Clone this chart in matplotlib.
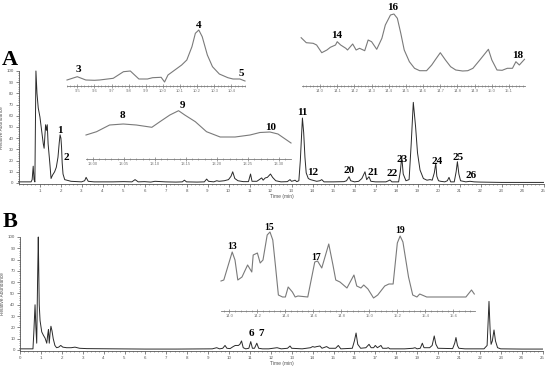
import matplotlib
matplotlib.use("Agg")
import matplotlib.pyplot as plt
from matplotlib.ticker import MultipleLocator, FixedLocator

W, H = 550, 370

# ---------------- data: main chromatogram A ----------------
tA = [0.0, 0.6, 0.65, 0.70, 0.74, 0.78, 0.83, 0.88, 0.94, 1.02, 1.10, 1.18, 1.22, 1.29, 1.33, 1.37,
      1.41, 1.45, 1.49, 1.55, 1.62, 1.72, 1.80, 1.88, 1.94, 1.98, 2.02, 2.05, 2.08, 2.12, 2.2, 2.5,
      3.0, 3.15, 3.22, 3.32, 3.6, 4.5, 5.0, 5.4, 5.55, 5.7, 6.0, 6.3, 6.5, 7.0, 7.5, 7.8, 7.9, 8.0,
      8.5, 8.85, 8.96, 9.05, 9.3, 9.44, 9.55, 9.8, 10.0, 10.12, 10.2, 10.3, 10.45, 10.7, 10.95,
      11.05, 11.12, 11.35, 11.5, 11.58, 11.65, 11.75, 11.85, 12.0, 12.1, 12.25, 12.5, 12.8, 12.93,
      13.0, 13.1, 13.17, 13.25, 13.35, 13.42, 13.52, 13.58, 13.64, 13.7, 13.8, 13.9, 14.2, 14.35,
      14.44, 14.55, 15.0, 15.5, 15.62, 15.74, 15.82, 16.0, 16.2, 16.35, 16.5, 16.58, 16.69, 16.78,
      17.0, 17.5, 17.62, 17.69, 17.78, 18.1, 18.18, 18.25, 18.32, 18.45, 18.6, 18.7, 18.8, 18.86,
      18.91, 19.0, 19.12, 19.28, 19.45, 19.6, 19.7, 19.8, 19.87, 19.92, 20.0, 20.1, 20.3, 20.42,
      20.5, 20.58, 20.75, 20.84, 20.9, 20.97, 21.05, 21.3, 21.5, 21.7, 22.0, 23.0, 24.0, 25.0]
vA = [1, 1, 3, 15, 3, 1, 100, 80, 67, 59, 47, 35, 31, 52, 47, 52,
      35, 27, 18, 4, 7, 10, 14, 23, 36, 43, 40, 32, 18, 8, 3, 1.5,
      1, 2, 5, 1.5, 1, 1, 1.2, 1, 3, 1, 1.2, 0.8, 1.5, 1, 0.8, 1, 2.5, 1,
      0.8, 1, 3.5, 1.5, 1, 2, 1.5, 2, 3, 6, 10, 4, 2, 1.2, 1.2,
      8, 1.5, 1.5, 3.5, 4.5, 2.5, 4.5, 5, 8, 5, 2, 1, 1.2, 3,
      1.5, 2, 2.5, 1.2, 2, 20, 58, 45, 23, 9, 4, 3, 1.5, 2,
      3, 1, 1, 1.2, 2, 5.6, 2, 1, 1.5, 4, 10, 3, 5.6, 1.5,
      1, 1, 2, 2.7, 1, 1, 10, 23.5, 8, 2, 3, 35, 72, 60,
      50, 27, 11.6, 4, 2.5, 3, 2.5, 9, 17.6, 6, 2, 1.5, 1, 2,
      5, 1, 1, 10, 19, 8, 2, 1, 1.5, 1, 0.8, 0.5, 0.5, 0.5]

# ---------------- data: main chromatogram B ----------------
tB = [0.0, 0.62, 0.66, 0.72, 0.76, 0.8, 0.84, 0.875, 0.89, 0.92, 0.96, 1.04, 1.12, 1.2, 1.28, 1.33,
      1.36, 1.4, 1.44, 1.48, 1.53, 1.59, 1.67, 1.75, 1.85, 1.95, 2.05, 2.23, 2.45, 2.63, 2.85, 3.2,
      4.5, 6.0, 7.5, 9.2, 9.41, 9.55, 9.7, 9.81, 9.9, 10.05, 10.2, 10.3, 10.45, 10.52, 10.6, 10.68,
      10.8, 10.95, 11.04, 11.12, 11.22, 11.33, 11.42, 11.6, 11.9, 12.3, 12.5, 12.8, 12.92, 13.0,
      13.5, 13.9, 14.0, 14.1, 14.2, 14.35, 14.45, 14.67, 14.8, 15.1, 15.23, 15.35, 15.9, 16.0,
      16.08, 16.16, 16.3, 16.55, 16.7, 16.8, 16.92, 17.0, 17.1, 17.27, 17.35, 17.55, 17.62, 17.7,
      18.4, 18.8, 18.9, 19.0, 19.15, 19.25, 19.33, 19.6, 19.72, 19.82, 19.9, 20.0, 20.7, 20.8,
      20.86, 20.93, 21.0, 21.29, 21.6, 22.2, 22.35, 22.44, 22.5, 22.54, 22.6, 22.68, 22.75, 22.85,
      23.0, 24.0, 25.0]
vB = [1, 1, 15, 40, 20, 6, 60, 100, 80, 40, 26, 16, 13, 10.5, 6, 14,
      18, 6, 15, 21, 17, 10, 4, 2, 2.5, 4, 2.5, 2, 2, 2.5, 1.5, 1.2,
      1, 0.8, 0.8, 1, 2, 1, 1.5, 4, 1.5, 1.2, 3, 4, 4, 5, 8, 2,
      1, 1.5, 7.4, 1.5, 1.5, 6, 1.5, 1, 1, 2, 1, 1.5, 3.5, 1.5,
      1, 2, 3, 2.5, 3, 3.5, 1.5, 3, 1.5, 1.5, 4, 1, 1.5, 8,
      15, 5, 1.5, 2, 5, 2, 2, 4, 2, 4, 1.5, 1.5, 2, 1,
      1, 1.5, 2, 1, 1.5, 6, 2, 2, 4, 12.4, 5, 1.5, 1.2, 6,
      11, 4, 1.5, 1, 1, 1, 4, 43, 15, 5, 8, 17.7, 8, 2,
      1, 0.8, 0.8]

# ---------------- data: insets (relative heights above inset axis) ----------------
t_in1 = [9.44, 9.50, 9.55, 9.60, 9.63, 9.71, 9.77, 9.81, 9.86, 9.91, 9.94, 9.99, 10.01, 10.03,
         10.07, 10.11, 10.14, 10.17, 10.19, 10.21, 10.23, 10.26, 10.29, 10.33, 10.38, 10.41,
         10.45, 10.48]
v_in1 = [6, 9.3, 6, 5.7, 6, 7.7, 14.3, 15, 7, 7, 8.3, 8.7, 4, 11,
         16, 21, 26, 39.3, 52.7, 56, 49.3, 31, 19.3, 12, 8.3, 7, 7, 5]

t_in2 = [12.989, 13.006, 13.027, 13.049, 13.070, 13.095, 13.108, 13.124, 13.138, 13.148,
         13.165, 13.183, 13.205, 13.229, 13.253, 13.269, 13.285, 13.298, 13.319]
v_in2 = [24, 27.3, 34, 35, 34, 31.7, 37.3, 44, 48.3, 44,
         37.3, 27.3, 22, 22, 24, 26.5, 27, 25, 16]

t_in3 = [13.89, 13.92, 13.96, 13.98, 14.01, 14.04, 14.06, 14.09, 14.10, 14.12, 14.15, 14.16,
         14.19, 14.21, 14.23, 14.26, 14.28, 14.30, 14.33, 14.36, 14.38, 14.41, 14.43, 14.45,
         14.47, 14.49, 14.52, 14.55, 14.58, 14.62, 14.65, 14.67, 14.70, 14.73, 14.76, 14.79,
         14.83, 14.86, 14.89, 14.93, 14.98, 15.00, 15.03, 15.06, 15.09, 15.12, 15.14, 15.16,
         15.19]
v_in3 = [48.3, 43.3, 42.7, 41, 33.3, 36, 38.7, 41, 44.3, 41, 37.7, 36,
         42, 36, 37.7, 35.3, 46, 44.3, 36.7, 47.7, 61, 71, 72, 67.7,
         52.7, 36, 24.3, 17.7, 15.3, 15.3, 21, 26, 33.3, 26, 19.3, 16,
         15, 15.3, 17.7, 26, 36.7, 26, 16, 15.7, 17.7, 17.7, 24.3, 21,
         26.7]

t_inB = [13.94, 13.96, 14.02, 14.04, 14.06, 14.09, 14.13, 14.16, 14.17, 14.20, 14.22, 14.24,
         14.27, 14.29, 14.31, 14.33, 14.35, 14.38, 14.40, 14.42, 14.45, 14.47, 14.49, 14.56,
         14.61, 14.63, 14.66, 14.71, 14.74, 14.76, 14.79, 14.84, 14.89, 14.91, 14.94, 14.96,
         14.99, 15.03, 15.06, 15.11, 15.14, 15.17, 15.20, 15.22, 15.24, 15.28, 15.31, 15.34,
         15.36, 15.41, 15.50, 15.59, 15.69, 15.73, 15.75]
v_inB = [30, 31, 59, 51, 31, 34, 46, 39, 56, 58, 48, 51,
         76, 79, 71, 44, 16, 14, 14, 24, 19, 14, 15, 14,
         49, 50, 43, 67, 46, 31, 29, 23, 36, 25, 23, 26,
         22, 13, 16, 25, 27, 27, 68, 75, 69, 34, 16, 14,
         17, 14, 14, 14, 14, 21, 17]

# ---------------- peak labels (time, height) ----------------
lab_A = ["1", "2", "11", "12", "20", "21", "22", "23", "24", "25", "26"]
lab_A_t = [1.98, 2.26, 13.5, 14.02, 15.74, 16.88, 17.79, 18.26, 19.93, 20.93, 21.55]
lab_A_v = [47.3, 23.2, 62.5, 9.8, 10.7, 9.8, 8.9, 21.4, 19.6, 23.2, 6.3]
lab_B = ["6", "7"]
lab_B_t = [11.05, 11.53]
lab_B_v = [14.2, 14.2]
lab_in1 = ["3", "4", "5"]
lab_in1_t = [9.506, 10.21, 10.46]
lab_in1_v = [16, 61, 12]
lab_in2 = ["8", "9", "10"]
lab_in2_t = [13.048, 13.144, 13.287]
lab_in2_v = [43, 53, 31]
lab_in3 = ["14", "16", "18"]
lab_in3_t = [14.099, 14.425, 15.152]
lab_in3_v = [50, 78, 30]
lab_inB = ["13", "15", "17", "19"]
lab_inB_t = [14.02, 14.286, 14.62, 15.22]
lab_inB_v = [64, 83, 54, 80]

xticksA = list(range(1, 26))
xticksB = list(range(0, 26))
yticks = list(range(0, 101, 10))
ticks_in1 = [9.5, 9.6, 9.7, 9.8, 9.9, 10.0, 10.1, 10.2, 10.3, 10.4]
ticks_in2 = [13.00, 13.05, 13.10, 13.15, 13.20, 13.25, 13.30]
ticks_in3 = [14.0, 14.1, 14.2, 14.3, 14.4, 14.5, 14.6, 14.7, 14.8, 14.9, 15.0, 15.1]
ticks_inB = [14.0, 14.2, 14.4, 14.6, 14.8, 15.0, 15.2, 15.4, 15.6]

# ---------------- drawing ----------------
plt.rcParams['font.family'] = ['Liberation Sans', 'DejaVu Sans']
fig = plt.figure(figsize=(W / 100, H / 100), dpi=100)
fig.patch.set_facecolor('white')

SERIF = ['Liberation Serif', 'DejaVu Serif']
AXC = '#555555'
TXC = '#555555'


def px_axes(x0, x1, ybot, ytop):
    return fig.add_axes([x0 / W, 1 - ybot / H, (x1 - x0) / W, (ybot - ytop) / H])


def main_axes(ax, t, v, xt, xlim, fmt0=True):
    ax.plot(t, v, color='#2a2a2a', lw=0.7, clip_on=False)
    ax.set_xlim(*xlim)
    ax.set_ylim(-1, 100)
    ax.patch.set_alpha(0)
    for s in ['top', 'right']:
        ax.spines[s].set_visible(False)
    for s in ['left', 'bottom']:
        ax.spines[s].set_color(AXC)
        ax.spines[s].set_linewidth(0.6)
    ax.set_xticks(xt)
    ax.set_xticklabels([str(x) for x in xt])
    ax.xaxis.set_minor_locator(MultipleLocator(0.2))
    ax.set_yticks(yticks)
    ax.yaxis.set_minor_locator(MultipleLocator(2))
    ax.tick_params(which='major', length=2, width=0.5, color=AXC, labelsize=3.2,
                   labelcolor=TXC, pad=1.5)
    ax.tick_params(which='minor', length=1, width=0.4, color=AXC)
    ax.set_xlabel('Time (min)', fontsize=3.6, color=TXC, labelpad=1)
    ax.set_ylabel('Relative Abundance', fontsize=3.4, color=TXC, labelpad=2)


def inset_axes(ax, t, v, xt, xlim, ylim, minor, fmt):
    ax.plot(t, v, color='#7a7a7a', lw=0.8, clip_on=False)
    ax.set_xlim(*xlim)
    ax.set_ylim(0, ylim)
    ax.patch.set_alpha(0)
    for s in ['top', 'right', 'left']:
        ax.spines[s].set_visible(False)
    ax.spines['bottom'].set_color('#7a7a7a')
    ax.spines['bottom'].set_linewidth(0.6)
    ax.set_yticks([])
    ax.set_xticks(xt)
    ax.set_xticklabels([fmt.format(x) for x in xt])
    ax.xaxis.set_minor_locator(MultipleLocator(minor))
    ax.tick_params(which='major', direction='inout', length=2.5, width=0.5, color='#7a7a7a',
                   labelsize=3.0, labelcolor='#777777', pad=1)
    ax.tick_params(which='minor', direction='inout', length=1.5, width=0.4, color='#7a7a7a')


def labels(ax, names, ts, vs, size):
    for n, t, v in zip(names, ts, vs):
        ax.text(t, v, n, ha='center', va='center', fontsize=size, fontweight='bold',
                family=SERIF, color='black', clip_on=False)


# Panel A
axA = px_axes(18.5, 543.5, 184.1, 71)
main_axes(axA, tA, vA, xticksA, (0, 25))
axA.xaxis.label.set_position(((282 - 18.5) / 525, 0))
labels(axA, lab_A, lab_A_t, lab_A_v, 8)

# Panel B
axB = px_axes(20, 542.5, 351.1, 237)
main_axes(axB, tB, vB, xticksB, (0, 25))
axB.xaxis.label.set_position(((282 - 20) / 522.5, 0))
labels(axB, lab_B, lab_B_t, lab_B_v, 8)

# Inset A1 (9.44 - 10.48 min)
ax1 = px_axes(67, 245, 86, 20)
inset_axes(ax1, t_in1, v_in1, ticks_in1, (9.44, 10.48), 66, 0.02, '{:.1f}')
labels(ax1, lab_in1, lab_in1_t, lab_in1_v, 8)

# Inset A2 (13.0 - 13.3 min)
ax2 = px_axes(86, 291, 159, 100)
inset_axes(ax2, t_in2, v_in2, ticks_in2, (12.989, 13.319), 59, 0.01, '{:.2f}')
labels(ax2, lab_in2, lab_in2_t, lab_in2_v, 8)

# Inset A3 (13.9 - 15.2 min)
ax3 = px_axes(302, 525, 86, 0)
inset_axes(ax3, t_in3, v_in3, ticks_in3, (13.895, 15.193), 86, 0.02, '{:.1f}')
labels(ax3, lab_in3, lab_in3_t, lab_in3_v, 8)

# Inset B (13.94 - 15.76 min)
axI = px_axes(221, 475, 311, 220)
inset_axes(axI, t_inB, v_inB, ticks_inB, (13.94, 15.755), 91, 0.04, '{:.1f}')
labels(axI, lab_inB, lab_inB_t, lab_inB_v, 7)

# Panel letters
fig.text(10 / W, 1 - 60 / H, 'A', fontsize=16, fontweight='bold', family=SERIF,
         ha='center', va='center')
fig.text(10 / W, 1 - 222 / H, 'B', fontsize=16, fontweight='bold', family=SERIF,
         ha='center', va='center')

fig.savefig('out.png', dpi=100, facecolor='white')
